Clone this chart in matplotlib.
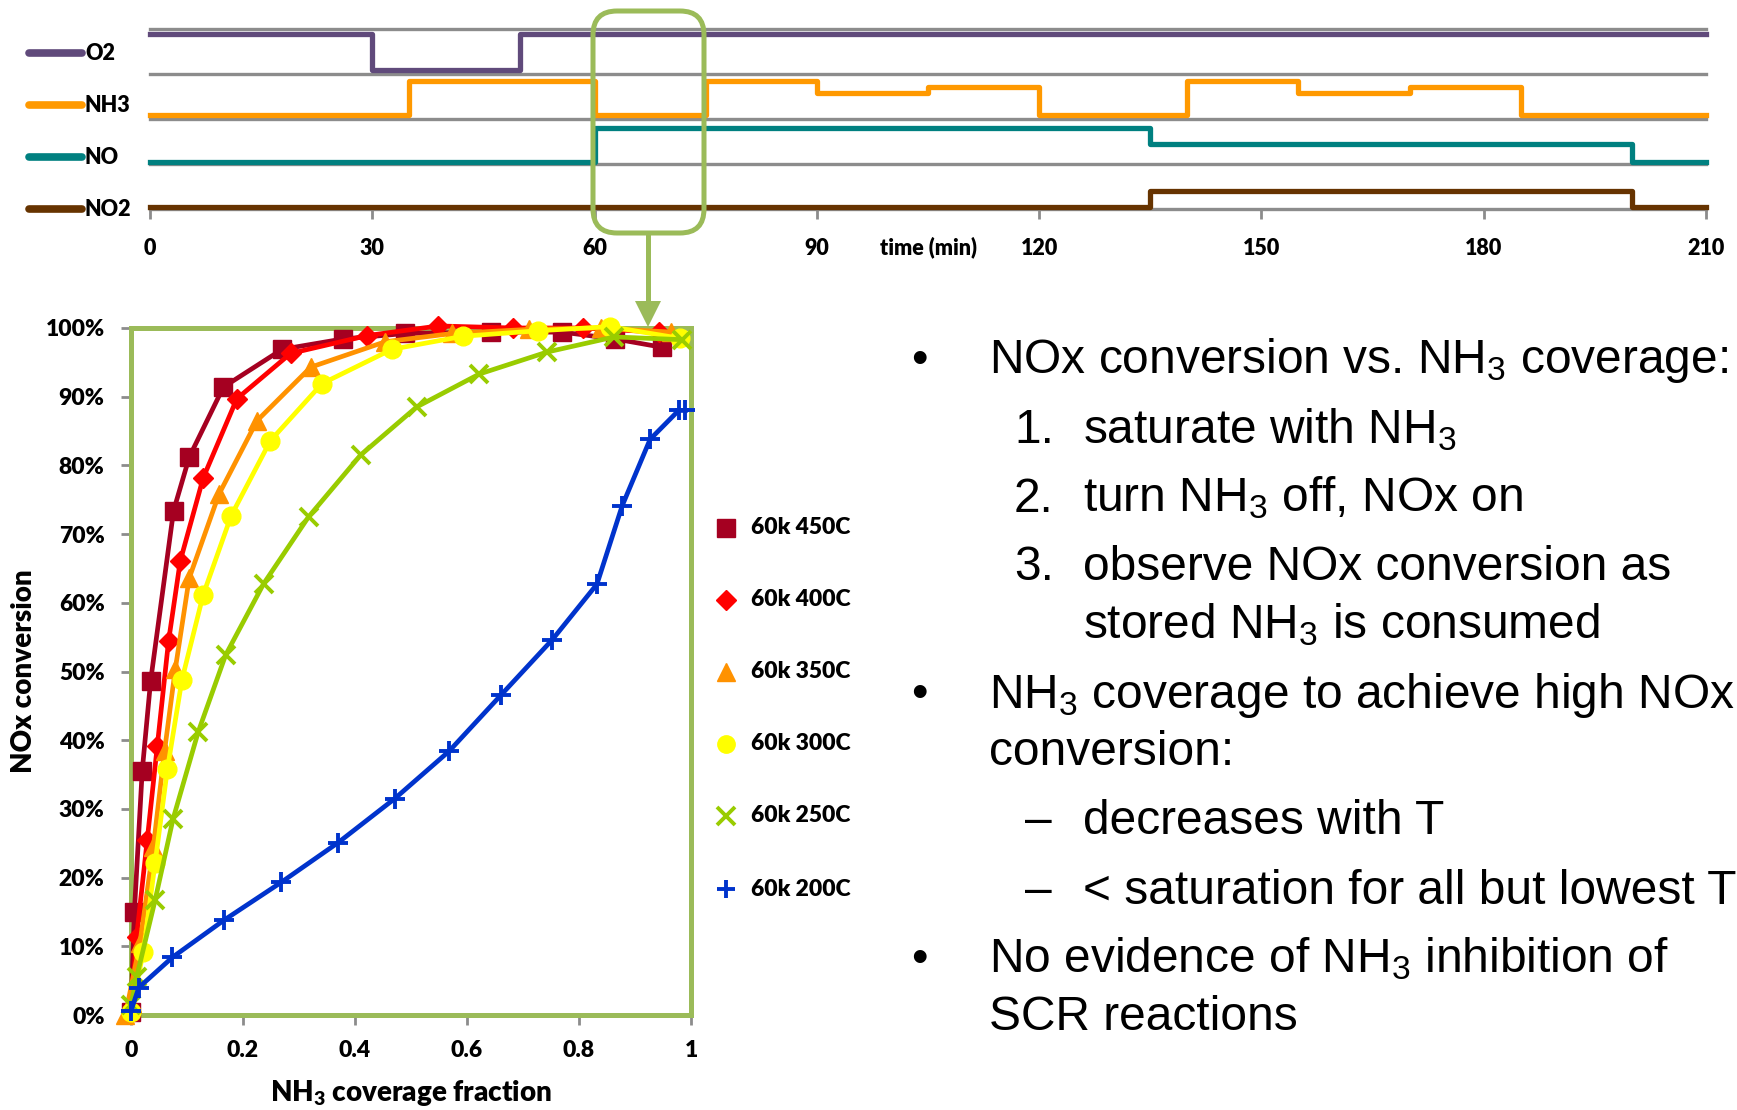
import matplotlib
matplotlib.use('Agg')
import matplotlib.pyplot as plt
from matplotlib.patches import FancyBboxPatch
from matplotlib.ticker import FuncFormatter

plt.rcParams['mathtext.default'] = 'regular'
plt.rcParams['mathtext.fontset'] = 'custom'
plt.rcParams['mathtext.bf'] = 'Lato:heavy'

W, H = 1737, 1110
CHART_FONT = ['Lato', 'DejaVu Sans']
SLIDE_FONT = ['Liberation Sans', 'DejaVu Sans']
CW = 'heavy'
GREEN = '#9BBB59'
GRAY = '#8C8C8C'

# gas feed schedule, each gas sits in its own band of the y axis
gas_names = ['O2', 'NH3', 'NO', 'NO2']
gas_colors = ['#604A7B', '#FF9900', '#008080', '#663300']
o2_t = [0, 30, 50, 210]
o2_v = [3.88, 3.1, 3.88, 3.88]
nh3_t = [0, 35, 60, 75, 90, 105, 120, 140, 155, 170, 185, 210]
nh3_v = [2.1, 2.84, 2.1, 2.84, 2.58, 2.72, 2.1, 2.84, 2.58, 2.72, 2.1, 2.1]
no_t = [0, 60, 135, 200, 210]
no_v = [1.05, 1.8, 1.45, 1.05, 1.05]
no2_t = [0, 135, 200, 210]
no2_v = [0.05, 0.4, 0.05, 0.05]
time_ticks = [0, 30, 60, 90, 120, 150, 180, 210]

# NOx conversion (%) vs NH3 coverage fraction
series_labels = ['60k 450C', '60k 400C', '60k 350C', '60k 300C', '60k 250C', '60k 200C']
x450 = [0.0, 0.006, 0.02, 0.035, 0.076, 0.104, 0.165, 0.27, 0.378, 0.49, 0.643, 0.77, 0.865, 0.948]
y450 = [0.5, 15, 35.5, 48.6, 73.4, 81.2, 91.4, 96.9, 98.4, 99.2, 99.4, 99.4, 98.4, 97.2]
x400 = [0.0, 0.01, 0.029, 0.047, 0.067, 0.088, 0.129, 0.189, 0.285, 0.422, 0.549, 0.683, 0.807, 0.942]
y400 = [0.5, 11.4, 25.5, 39.2, 54.4, 66.1, 78.2, 89.7, 96.3, 98.9, 100.3, 100, 100, 99.4]
x350 = [-0.01, 0.016, 0.04, 0.06, 0.079, 0.104, 0.157, 0.225, 0.321, 0.454, 0.574, 0.711, 0.839, 0.964]
y350 = [0.0, 10.5, 24.5, 38.5, 50.3, 63.6, 75.8, 86.5, 94.3, 98.0, 99.2, 99.8, 100, 99.4]
x300 = [0.0, 0.022, 0.043, 0.065, 0.091, 0.129, 0.179, 0.249, 0.341, 0.466, 0.593, 0.727, 0.855, 0.98]
y300 = [0.5, 9.2, 22.1, 35.8, 48.8, 61.2, 72.7, 83.6, 91.9, 96.9, 98.8, 99.6, 100.2, 98.5]
x250 = [0.0, 0.01, 0.043, 0.075, 0.12, 0.169, 0.237, 0.317, 0.41, 0.51, 0.622, 0.743, 0.863, 0.984]
y250 = [1.5, 5.5, 16.7, 28.5, 41.2, 52.4, 62.8, 72.5, 81.5, 88.5, 93.3, 96.5, 98.7, 98.3]
x200 = [0.0, 0.014, 0.074, 0.166, 0.268, 0.37, 0.471, 0.568, 0.661, 0.752, 0.832, 0.877, 0.927, 0.978, 0.99]
y200 = [0.6, 4.0, 8.4, 13.8, 19.3, 25.1, 31.5, 38.4, 46.6, 54.6, 62.7, 74.1, 83.8, 88.0, 88.0]
series_colors = ['#A50021', '#FF0000', '#FF9200', '#FFFF00', '#99CC00', '#0033CC']
series_markers = ['s', 'D', '^', 'o', 'x', '+']

fig = plt.figure(figsize=(W / 100, H / 100), dpi=100)

# ---- top: feed schedule ----
ax1 = fig.add_axes([150 / W, 1 - 209 / H, 1556 / W, 180 / H])
for yv in [1, 2, 3, 4]:
    ax1.axhline(yv, color=GRAY, lw=2.4, zorder=1, clip_on=False)
sched = [(o2_t, o2_v), (nh3_t, nh3_v), (no_t, no_v), (no2_t, no2_v)]
for (t, v), c in zip(sched, gas_colors):
    ax1.step(t, v, where='post', color=c, lw=3.8, zorder=3, clip_on=False)
ax1.set_xlim(0, 210)
ax1.set_ylim(0, 4)
ax1.set_yticks([])
ax1.set_xticks(time_ticks)
ax1.set_xticklabels([str(t) for t in time_ticks], fontsize=15.5, fontweight=CW, family=CHART_FONT)
ax1.tick_params(axis='x', length=7, width=2, color=GRAY, pad=14)
for s in ['top', 'left', 'right']:
    ax1.spines[s].set_visible(False)
ax1.spines['bottom'].set_color(GRAY)
ax1.spines['bottom'].set_linewidth(2.4)
ax1.set_xlabel('time (min)', fontsize=15.5, fontweight=CW, family=CHART_FONT)
ax1.xaxis.set_label_coords(0.5, -0.21)
ax1.xaxis.label.set_va('center')
ax1.patch.set_alpha(0)

# ---- bottom: NOx conversion ----
ax2 = fig.add_axes([131 / W, 1 - 1015 / H, 560 / W, 687 / H])
xs = [x450, x400, x350, x300, x250, x200]
ys = [y450, y400, y350, y300, y250, y200]
sizes = [13, 10.5, 13.5, 13.5, 13, 15]
for x, y, c, m, ms in zip(xs, ys, series_colors, series_markers, sizes):
    ax2.plot(x, y, color=c, lw=3.4, marker=m, ms=ms, mew=2.8 if m in 'x+' else 1,
             mec=c, mfc=c, clip_on=False, zorder=3)
ax2.set_xlim(0, 1)
ax2.set_ylim(0, 100)
ax2.set_xticks([0, 0.2, 0.4, 0.6, 0.8, 1.0])
ax2.set_xticklabels(['0', '0.2', '0.4', '0.6', '0.8', '1'])
ax2.set_yticks(range(0, 101, 10))
ax2.yaxis.set_major_formatter(FuncFormatter(lambda v, p: f'{v:.0f}%'))
for lab in ax2.get_xticklabels() + ax2.get_yticklabels():
    lab.set_fontsize(16.5)
    lab.set_fontweight(CW)
    lab.set_family(CHART_FONT)
ax2.tick_params(axis='x', length=7, width=2, color=GRAY, pad=11)
ax2.tick_params(axis='y', length=7, width=2, color=GRAY, pad=12)
for s in ax2.spines.values():
    s.set_color(GREEN)
    s.set_linewidth(3.6)
ax2.set_xlabel(r'$\mathbf{NH_3}$ coverage fraction', fontsize=20, fontweight=CW, family=CHART_FONT)
ax2.xaxis.set_label_coords(0.5, -0.114)
ax2.xaxis.label.set_va('center')
ax2.set_ylabel('NOx conversion', fontsize=20, fontweight=CW, family=CHART_FONT)
ax2.yaxis.set_label_coords(-0.191, 0.5)
ax2.yaxis.label.set_va('center')

# ---- overlay in pixel coordinates ----
ov = fig.add_axes([0, 0, 1, 1], zorder=10)
ov.set_xlim(0, W)
ov.set_ylim(H, 0)
ov.axis('off')

# feed legend
for name, c, yy in zip(gas_names, gas_colors, [53, 105, 157, 209]):
    ov.plot([29, 82], [yy, yy], color=c, lw=5.5, solid_capstyle='round')
    ov.text(85, yy, name, va='center', ha='left', fontsize=15.5, fontweight=CW, family=CHART_FONT)

# highlight box and arrow
ov.add_patch(FancyBboxPatch((593, 11), 111, 222, boxstyle='round,pad=0,rounding_size=24',
                            fill=False, ec=GREEN, lw=3.6))
ov.plot([648, 648], [233, 303], color=GREEN, lw=3.6)
ov.fill([635, 661, 648], [301, 301, 327], color=GREEN, lw=0)

# conversion legend
for lab, c, m, yy in zip(series_labels, series_colors, series_markers, [528, 600, 672, 744, 816, 889]):
    ov.plot([726], [yy], ls='none', marker=m, ms=12.5 if m != 'D' else 10.5, color=c, mec=c,
            mew=2.8 if m in 'x+' else 1)
    ov.text(751, yy, lab, va='center', ha='left', fontsize=16.5, fontweight=CW, family=CHART_FONT)

# slide bullet text
bullet_lines = [
    ('•', 'NOx conversion vs. NH$_3$ coverage:', 0),
    ('1.', 'saturate with NH$_3$', 1),
    ('2.', 'turn NH$_3$ off, NOx on', 1),
    ('3.', 'observe NOx conversion as', 1),
    ('', 'stored NH$_3$ is consumed', 1),
    ('•', 'NH$_3$ coverage to achieve high NOx', 0),
    ('', 'conversion:', 0),
    ('–', 'decreases with T', 2),
    ('–', '< saturation for all but lowest T', 2),
    ('•', 'No evidence of NH$_3$ inhibition of', 0),
    ('', 'SCR reactions', 0),
]
line_centers = [355.6, 425.4, 494.1, 562.8, 620.4, 690.2, 747.8, 816.4, 886.2, 954.9, 1012.5]
for (mark, txt, lvl), yc in zip(bullet_lines, line_centers):
    base = yc + 17.5
    tx = 989 if lvl == 0 else 1083
    ov.text(tx, base, txt, fontsize=34.5, family=SLIDE_FONT, va='baseline', ha='left')
    if mark == '•':
        ov.text(919, yc + 17, mark, fontsize=34, family=SLIDE_FONT, va='baseline', ha='center')
    elif mark == '–':
        ov.text(1025, base, mark, fontsize=34.5, family=SLIDE_FONT, va='baseline', ha='left')
    elif mark:
        ov.text(1014, base, mark, fontsize=34.5, family=SLIDE_FONT, va='baseline', ha='left')

fig.savefig('out.png', dpi=100, facecolor='white')
